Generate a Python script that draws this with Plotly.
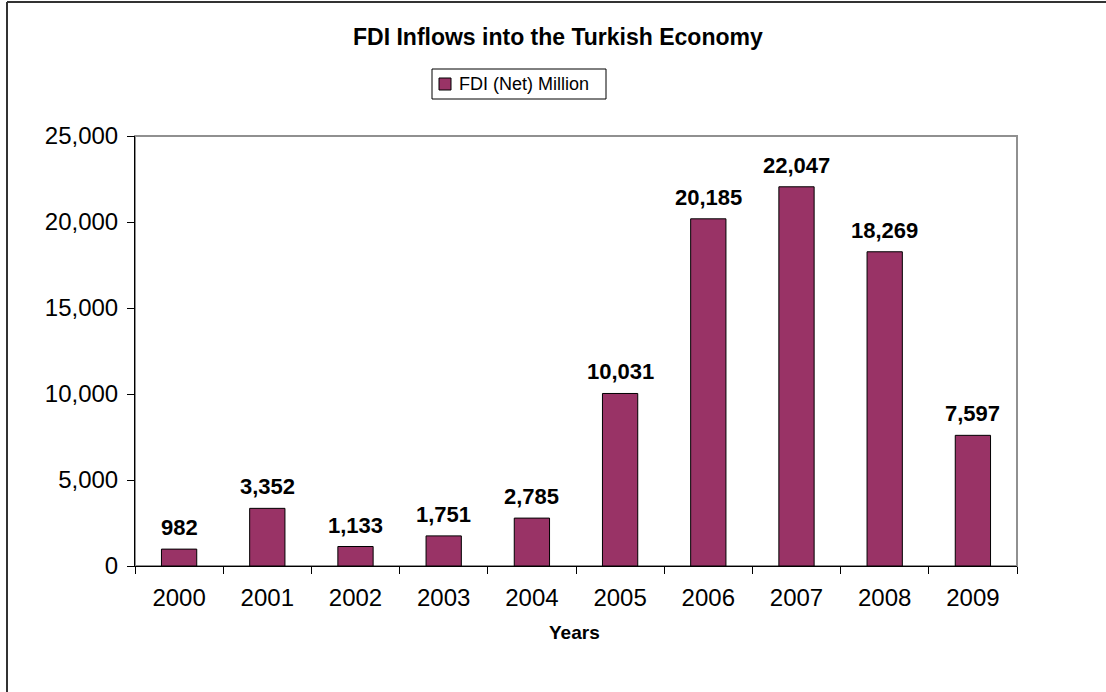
import plotly.graph_objects as go

years = ["2000", "2001", "2002", "2003", "2004", "2005", "2006", "2007", "2008", "2009"]
fdi = [982, 3352, 1133, 1751, 2785, 10031, 20185, 22047, 18269, 7597]
series_name = "FDI (Net) Million"
title = "FDI Inflows into the Turkish Economy"
x_title = "Years"

W, H = 1106, 692
L, R, T, B = 135, 1017, 136, 566
pw, ph = R - L, B - T


def px(x):
    return (x - L) / pw


def py(y):
    return (B - y) / ph


FONT = "Liberation Sans, Arial, sans-serif"
BAR_COLOR = "#993366"

fig = go.Figure()
fig.add_trace(go.Bar(
    x=years, y=fdi, name=series_name,
    marker=dict(color=BAR_COLOR, line=dict(color="#000000", width=1)),
    showlegend=False,
))

annotations = []
for i, v in enumerate(fdi):
    annotations.append(dict(
        x=i, y=v, xref="x", yref="y", text=f"<b>{v:,}</b>", showarrow=False,
        yanchor="bottom", yshift=7, font=dict(family=FONT, size=22, color="#000"),
    ))
annotations.append(dict(
    x=px(W / 2 + 5), y=py(37), xref="paper", yref="paper", text=f"<b>{title}</b>",
    showarrow=False, xanchor="center", yanchor="middle",
    font=dict(family=FONT, size=23, color="#000"),
))
# legend text
annotations.append(dict(
    x=px(457), y=py(84), xref="paper", yref="paper", text=series_name,
    showarrow=False, xanchor="left", yanchor="middle",
    font=dict(family=FONT, size=18, color="#000"),
))
annotations.append(dict(
    x=px(W / 2 + 21), y=py(632), xref="paper", yref="paper", text=f"<b>{x_title}</b>",
    showarrow=False, xanchor="center", yanchor="middle",
    font=dict(family=FONT, size=19, color="#000"),
))

shapes = [
    dict(type="rect", xref="paper", yref="paper", x0=0, x1=1, y0=0, y1=1,
         line=dict(color="#909090", width=2), layer="below"),
    dict(type="line", xref="paper", yref="paper", x0=px(7), x1=px(7), y0=py(2), y1=py(700),
         line=dict(color="#333333", width=2)),
    dict(type="line", xref="paper", yref="paper", x0=px(7), x1=px(1110), y0=py(2), y1=py(2),
         line=dict(color="#333333", width=2)),
    # legend box and key
    dict(type="rect", xref="paper", yref="paper", x0=px(432), x1=px(606), y0=py(99), y1=py(69),
         line=dict(color="#000000", width=1), fillcolor="white"),
    dict(type="rect", xref="paper", yref="paper", x0=px(439), x1=px(451), y0=py(90), y1=py(78),
         line=dict(color="#000000", width=1), fillcolor=BAR_COLOR),
]

fig.update_layout(
    width=W, height=H,
    margin=dict(l=L, r=W - R, t=T, b=H - B, autoexpand=False),
    paper_bgcolor="white", plot_bgcolor="white",
    font=dict(family=FONT, color="#000"),
    bargap=0.6,
    showlegend=False,
    annotations=annotations,
    shapes=shapes,
    xaxis=dict(
        type="category", range=[-0.5, len(years) - 0.5],
        showline=True, linecolor="#000", linewidth=1,
        ticks="outside", ticklen=7, tickcolor="#000", tickson="boundaries",
        tickfont=dict(family=FONT, size=24, color="#000"), tickangle=0,
        ticklabelstandoff=10,
        showgrid=False, zeroline=False,
    ),
    yaxis=dict(
        range=[0, 25000], tickvals=[0, 5000, 10000, 15000, 20000, 25000],
        tickformat=",d", showline=True, linecolor="#000", linewidth=1,
        ticks="outside", ticklen=7, tickcolor="#000",
        tickfont=dict(family=FONT, size=24, color="#000"),
        ticklabelstandoff=4,
        showgrid=False, zeroline=False,
    ),
)

fig.write_html("out.html")
